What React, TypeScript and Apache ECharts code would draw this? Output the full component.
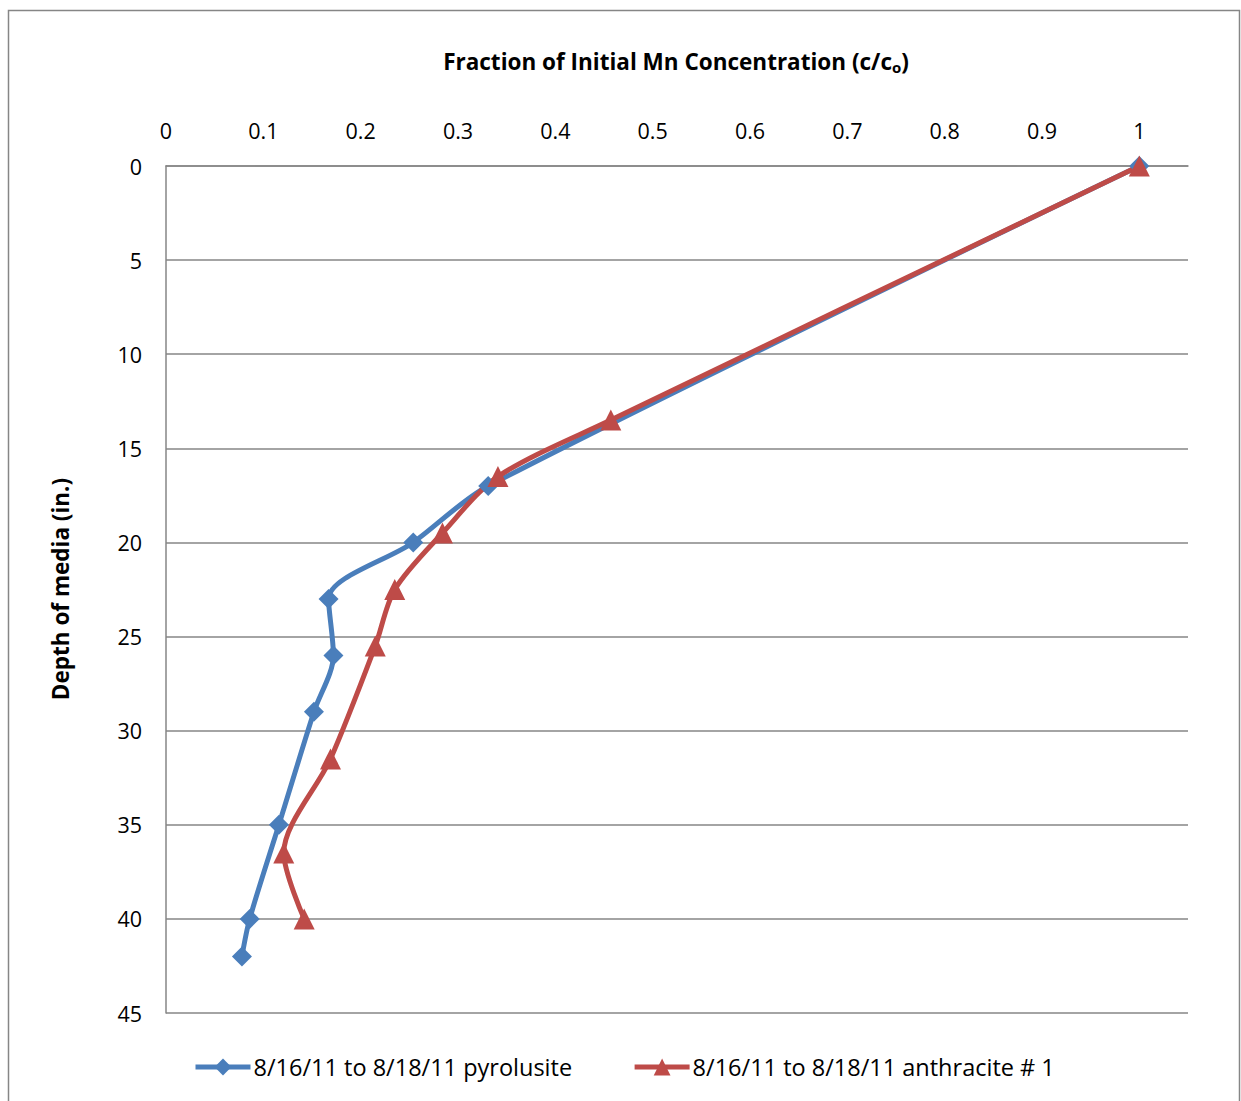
import React, { useEffect, useRef } from "react";
import * as echarts from "echarts";

const seriesNames = ["8/16/11 to 8/18/11 pyrolusite", "8/16/11 to 8/18/11 anthracite # 1"];
const pyroFraction = [1.0, 0.331, 0.254, 0.167, 0.172, 0.152, 0.116, 0.086, 0.078];
const pyroDepth = [0, 17, 20, 23, 26, 29, 35, 40, 42];
const anthFraction = [1.0, 0.457, 0.341, 0.284, 0.235, 0.215, 0.169, 0.121, 0.142];
const anthDepth = [0, 13.5, 16.5, 19.5, 22.5, 25.5, 31.5, 36.5, 40];
const xTitle = "Fraction of Initial Mn Concentration (c/c";
const yTitle = "Depth of media (in.)";

const FONT = "'Open Sans', 'Liberation Sans', sans-serif";

export default function App() {
  const ref = useRef<HTMLDivElement>(null);
  useEffect(() => {
    document.body.style.margin = "0";
    const chart = echarts.init(ref.current!, null, { renderer: "svg" });
    const blue = "#4A7EBB";
    const red = "#BE4B48";
    chart.setOption({
      animation: false,
      backgroundColor: "#ffffff",
      textStyle: { fontFamily: FONT },
      grid: { left: 166, top: 166, right: 53, bottom: 88 },
      xAxis: {
        type: "value",
        position: "top",
        min: 0,
        max: 1.05,
        interval: 0.1,
        axisLine: { show: true, lineStyle: { color: "#868686", width: 1.5 } },
        axisTick: { show: false },
        splitLine: { show: false },
        axisLabel: {
          color: "#000",
          fontSize: 21.5,
          fontFamily: FONT,
          margin: 25,
          showMaxLabel: false,
          formatter: (v: number) => String(Math.round(v * 10) / 10),
        },
      },
      yAxis: {
        type: "value",
        inverse: true,
        min: 0,
        max: 45,
        interval: 5,
        axisLine: { show: true, lineStyle: { color: "#868686", width: 1.5 } },
        axisTick: { show: false },
        splitLine: { show: true, lineStyle: { color: "#868686", width: 1.5 } },
        axisLabel: { color: "#000", fontSize: 21.5, fontFamily: FONT, margin: 24 },
      },
      legend: {
        left: 193,
        top: 1055,
        padding: 0,
        itemWidth: 55,
        itemHeight: 21,
        itemGap: 60,
        lineStyle: { width: 5 },
        textStyle: { color: "#000", fontSize: 23.5, fontFamily: FONT, padding: [0, 0, 0, -2] },
        data: seriesNames,
      },
      series: [
        {
          name: seriesNames[0],
          type: "line",
          smooth: 0.3,
          data: pyroFraction.map((x, i) => [x, pyroDepth[i]]),
          symbol: "diamond",
          symbolSize: 20,
          lineStyle: { color: blue, width: 5 },
          itemStyle: { color: blue },
        },
        {
          name: seriesNames[1],
          type: "line",
          smooth: 0.3,
          data: anthFraction.map((x, i) => [x, anthDepth[i]]),
          symbol: "triangle",
          symbolSize: 21,
          lineStyle: { color: red, width: 5 },
          itemStyle: { color: red },
        },
      ],
      graphic: [
        {
          type: "rect",
          shape: { x: 8.5, y: 10.5, width: 1231, height: 1100 },
          style: { fill: "none", stroke: "#868686", lineWidth: 1.5 },
          silent: true,
        },
        {
          type: "text",
          x: 676,
          y: 61,
          style: {
            text: "{a|" + xTitle + "}{s|o}{a|)}",
            align: "center",
            verticalAlign: "middle",
            rich: {
              a: { fontSize: 22.5, fontWeight: "bold", fontFamily: FONT, fill: "#000" } as any,
              s: { fontSize: 15, fontWeight: "bold", fontFamily: FONT, fill: "#000", padding: [12, 0, 0, 0] } as any,
            },
          },
        },
        {
          type: "text",
          x: 60,
          y: 589,
          rotation: Math.PI / 2,
          style: {
            text: yTitle,
            align: "center",
            verticalAlign: "middle",
            fontSize: 22.5,
            fontWeight: "bold",
            fontFamily: FONT,
            fill: "#000",
          },
        },
      ],
    });
    return () => chart.dispose();
  }, []);
  return <div ref={ref} style={{ width: 1241, height: 1101 }} />;
}
